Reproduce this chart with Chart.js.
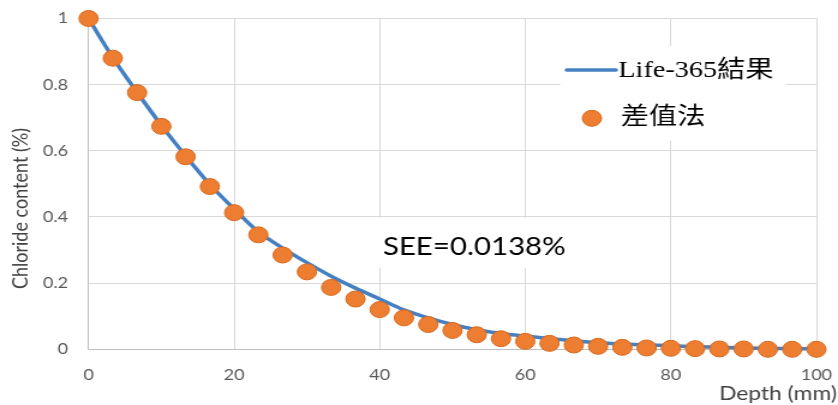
<!DOCTYPE html>
<html>
<head>
<meta charset="utf-8">
<script src="https://cdn.jsdelivr.net/npm/chart.js@4/dist/chart.umd.min.js"></script>
<style>
  html, body { margin: 0; padding: 0; background: #fff; overflow: hidden; }
  /* the drawing is laid out at 698px and widened to the 838px page */
  #stage { width: 698px; height: 405px; transform: scaleX(1.2006); transform-origin: 0 0; }
</style>
</head>
<body>
<div id="stage"><canvas id="c" width="698" height="405"></canvas></div>
<script>
// depth below the surface (mm)
const depthMm = [0, 3.33, 6.67, 10, 13.33, 16.67, 20, 23.33, 26.67, 30, 33.33, 36.67, 40, 43.33, 46.67, 50,
                 53.33, 56.67, 60, 63.33, 66.67, 70, 73.33, 76.67, 80, 83.33, 86.67, 90, 93.33, 96.67, 100];
// chloride content (%) from Life-365
const life365 = [1.000, 0.882, 0.777, 0.677, 0.585, 0.498, 0.424, 0.355, 0.306, 0.262, 0.221, 0.185, 0.152, 0.119, 0.095, 0.075,
                 0.059, 0.048, 0.040, 0.033, 0.026, 0.020, 0.016, 0.013, 0.011, 0.008, 0.006, 0.004, 0.003, 0.002, 0.001];
// chloride content (%) from the finite-difference method
const diffMethod = [1.000, 0.880, 0.776, 0.674, 0.582, 0.492, 0.413, 0.346, 0.285, 0.234, 0.187, 0.152, 0.120, 0.095, 0.075, 0.057,
                    0.044, 0.032, 0.024, 0.018, 0.013, 0.009, 0.006, 0.004, 0.003, 0.002, 0.001, 0.001, 0.000, 0.000, 0.000];
const yTickLabels = ['0', '0.2', '0.4', '0.6', '0.8', '1'];
const seriesNames = ['Life-365結果', '差值法'];
const xTitle = 'Depth (mm)';
const yTitle = 'Chloride content (%)';
const noteText = 'SEE=0.0138%';

const toXY = (ys) => depthMm.map((d, i) => ({ x: d, y: ys[i] }));

const FONT_X_TITLE = '19px Lato';
const FONT_Y_TITLE = '18px Lato';
const FONT_NOTE = '24.5px Lato';
const FONT_LEGEND = '23.5px "Liberation Serif", "Noto Sans CJK TC"';

// text boxes: legend (top right) and SEE note, plus the axis titles
const overlays = {
  id: 'overlays',
  afterDraw(chart) {
    const ctx = chart.ctx;
    const xs = chart.scales.x, ys = chart.scales.y;
    const ds = chart.data.datasets;
    ctx.save();

    // legend panel
    ctx.fillStyle = '#ffffff';
    ctx.fillRect(466.5, 46, 188, 95);
    // line entry
    ctx.strokeStyle = ds[0].borderColor;
    ctx.lineWidth = 3.5;
    ctx.lineCap = 'round';
    ctx.beginPath();
    ctx.moveTo(472, 70);
    ctx.lineTo(513, 70);
    ctx.stroke();
    ctx.fillStyle = '#000000';
    ctx.font = FONT_LEGEND;
    ctx.textAlign = 'left';
    ctx.textBaseline = 'alphabetic';
    ctx.fillText(ds[0].label, 515, 76.7);
    // marker entry
    ctx.beginPath();
    ctx.arc(493, 118.3, 8, 0, Math.PI * 2);
    ctx.fillStyle = ds[1].backgroundColor;
    ctx.fill();
    ctx.lineWidth = 1;
    ctx.strokeStyle = ds[1].borderColor;
    ctx.stroke();
    ctx.fillStyle = '#000000';
    ctx.textBaseline = 'middle';
    ctx.fillText(ds[1].label, 517, 117.5);

    // SEE note, anchored in data units
    const nx = xs.getPixelForValue(40.44);
    const ny = ys.getPixelForValue(0.286);
    ctx.font = FONT_NOTE;
    ctx.textBaseline = 'alphabetic';
    const w = ctx.measureText(noteText).width;
    ctx.fillStyle = '#ffffff';
    ctx.fillRect(nx - 6, ny - 37, w + 16, 50);
    ctx.fillStyle = '#000000';
    ctx.fillText(noteText, nx, ny);

    // axis titles
    ctx.fillStyle = '#404040';
    ctx.font = FONT_X_TITLE;
    ctx.textAlign = 'right';
    ctx.fillText(xTitle, 697, 399.5);
    ctx.font = FONT_Y_TITLE;
    ctx.translate(17.5, 208.5);
    ctx.rotate(-Math.PI / 2);
    ctx.textAlign = 'center';
    ctx.textBaseline = 'middle';
    ctx.fillText(yTitle, 0, 0);
    ctx.restore();
  }
};

new Chart(document.getElementById('c'), {
  type: 'scatter',
  data: {
    datasets: [
      {
        label: seriesNames[0],
        data: toXY(life365),
        showLine: true,
        borderColor: '#4580C2',
        borderWidth: 3.5,
        pointRadius: 0,
        cubicInterpolationMode: 'monotone',
        clip: false,
        order: 1
      },
      {
        label: seriesNames[1],
        data: toXY(diffMethod),
        showLine: false,
        backgroundColor: '#ED7D31',
        borderColor: '#DA6A20',
        borderWidth: 1,
        pointRadius: 8,
        pointHoverRadius: 8,
        clip: false,
        order: 0
      }
    ]
  },
  options: {
    responsive: false,
    devicePixelRatio: 1,
    animation: false,
    events: [],
    layout: { padding: { top: 18.5, right: 18, left: 0, bottom: 0 } },
    plugins: { legend: { display: false }, tooltip: { enabled: false } },
    scales: {
      x: {
        type: 'linear',
        min: 0, max: 100,
        ticks: { stepSize: 20, padding: 17, color: '#595959', font: { family: 'Lato', size: 15 } },
        grid: { color: '#D9D9D9', lineWidth: 1, drawTicks: false },
        border: { color: '#BFBFBF', width: 1 },
        afterFit(s) { s.height = 55.7; s.paddingLeft = 0; s.paddingRight = 0; }
      },
      y: {
        min: 0, max: 1,
        ticks: {
          stepSize: 0.2, padding: 17, color: '#595959', font: { family: 'Lato', size: 15 },
          callback: (v, i) => yTickLabels[i]
        },
        grid: { color: '#D9D9D9', lineWidth: 1, drawTicks: false },
        border: { color: '#BFBFBF', width: 1 },
        afterFit(s) { s.width = 73.75; s.paddingTop = 0; s.paddingBottom = 0; }
      }
    }
  },
  plugins: [overlays]
});
</script>
</body>
</html>
